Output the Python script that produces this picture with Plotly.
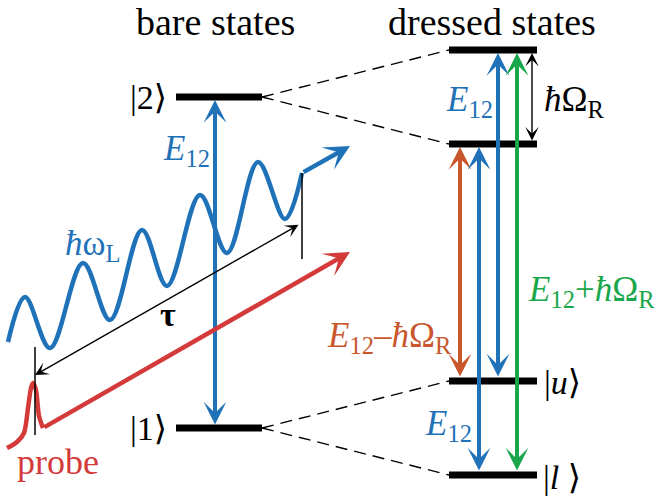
import plotly.graph_objects as go

# ---------------- data (pixel-like diagram coordinates) ----------------
W, H = 658, 497
FONT = "Liberation Serif, Times New Roman, DejaVu Serif, serif"

BLUE = "#1f72b8"
RED = "#d43a3a"
ORANGE = "#c9562c"
GREEN = "#1aa64a"
BLACK = "#000000"

# energy levels
bare_x = [176, 262]
bare_levels_y = [97, 428]          # |2>, |1>
dressed_x = [449, 537]
dressed_levels_y = [50, 144, 381, 475]   # upper pair, |u>, |l>

# laser field (extrema of the wave)
wave_x = [8, 25, 50, 83, 110, 142, 167, 200, 227, 258, 285, 302]
wave_y = [342, 297, 348, 263, 320, 230, 286, 195, 253, 162, 219, 173]
wave_arrow = [(302, 173), (350, 146)]

# probe pulse
probe_x = [7, 17, 24, 28, 31, 33, 36, 39, 43]
probe_y = [448, 442, 433, 408, 388, 383, 390, 416, 428]
probe_arrow = [(43, 428), (350, 252)]

# delay tau
tau_ticks = [(35, 347, 435), (302, 173, 259)]
tau_arrow = [(300, 224), (35, 375)]

# vertical transition arrows: (x, y_start, y_end, color)
transitions = [
    (215, 100, 426, BLUE),
    (460, 147, 378, ORANGE),
    (479, 147, 472, BLUE),
    (498, 53, 378, BLUE),
    (517, 53, 472, GREEN),
]
rabi_arrow = (532, 53, 142)

# headers: (text, x, size) placed at the top edge
headers = [("bare states", 215, 38), ("dressed states", 492, 38)]

# labels: (text, x, y, color, size)
labels = [
    ("|2⟩", 148, 97, BLACK, 34),
    ("|1⟩", 148, 428, BLACK, 34),
    ("|<i>u</i>⟩", 562, 382, BLACK, 34),
    ("|<i>l</i> ⟩", 562, 477, BLACK, 34),
    ("<i>E</i><sub>12</sub>", 186, 150, BLUE, 35),
    ("<i>E</i><sub>12</sub>", 469, 101, BLUE, 35),
    ("<i>E</i><sub>12</sub>", 448, 425, BLUE, 35),
    ("<i>ħ</i>ω<sub>L</sub>", 93, 245, BLUE, 35),
    ("<i>ħ</i>Ω<sub>R</sub>", 574, 101, BLACK, 35),
    ("<i>E</i><sub>12</sub>+<i>ħ</i>Ω<sub>R</sub>", 591, 291, GREEN, 35),
    ("<i>E</i><sub>12</sub>–<i>ħ</i>Ω<sub>R</sub>", 389, 337, ORANGE, 35),
    ("<b>τ</b>", 168, 314, BLACK, 34),
    ("probe", 58, 462, RED, 36),
]

# ---------------- figure ----------------
fig = go.Figure()

# dashed connectors between bare and dressed levels
for by, pair in zip(bare_levels_y, [dressed_levels_y[:2], dressed_levels_y[2:]]):
    for dy in pair:
        fig.add_trace(go.Scatter(x=[bare_x[1], dressed_x[0]], y=[by, dy], mode="lines",
                                 line=dict(color=BLACK, width=1.4, dash="12px,7px"),
                                 hoverinfo="skip"))

# wave
fig.add_trace(go.Scatter(x=wave_x, y=wave_y, mode="lines",
                         line=dict(color=BLUE, width=4.5, shape="spline", smoothing=1.0),
                         hoverinfo="skip"))
# probe pulse
fig.add_trace(go.Scatter(x=probe_x, y=probe_y, mode="lines",
                         line=dict(color=RED, width=4.5, shape="spline", smoothing=0.8),
                         hoverinfo="skip"))
# tau ticks
for tx, y0, y1 in tau_ticks:
    fig.add_trace(go.Scatter(x=[tx, tx], y=[y0, y1], mode="lines",
                             line=dict(color=BLACK, width=1.5), hoverinfo="skip"))

annotations = []


def arrow(p0, p1, color, width, size, both=False, head=3):
    annotations.append(dict(
        x=p1[0], y=p1[1], ax=p0[0], ay=p0[1], xref="x", yref="y", axref="x", ayref="y",
        text="", showarrow=True, arrowhead=head, startarrowhead=head,
        arrowsize=size, startarrowsize=size, arrowwidth=width, arrowcolor=color,
        arrowside="end+start" if both else "end", standoff=0, startstandoff=0))


# vertical transitions
for (tx, y0, y1, col) in transitions:
    arrow((tx, y1), (tx, y0), col, 4, 0.95, both=True)
arrow((rabi_arrow[0], rabi_arrow[2]), (rabi_arrow[0], rabi_arrow[1]), BLACK, 1.4, 1.6, both=True)

# probe straight part and wave tail
arrow(probe_arrow[0], probe_arrow[1], RED, 4.5, 0.95)
arrow(wave_arrow[0], wave_arrow[1], BLUE, 4.5, 0.95)
# tau arrow
arrow(tau_arrow[0], tau_arrow[1], BLACK, 1.4, 1.6, both=True)

# levels
for ly in bare_levels_y:
    fig.add_trace(go.Scatter(x=bare_x, y=[ly, ly], mode="lines",
                             line=dict(color=BLACK, width=7), hoverinfo="skip"))
for ly in dressed_levels_y:
    fig.add_trace(go.Scatter(x=dressed_x, y=[ly, ly], mode="lines",
                             line=dict(color=BLACK, width=7), hoverinfo="skip"))

for text, hx, size in headers:
    annotations.append(dict(x=hx, y=0, xref="x", yref="y", text=text, showarrow=False,
                            font=dict(family=FONT, size=size, color=BLACK),
                            xanchor="center", yanchor="top", borderpad=0))

for text, lx, ly, col, size in labels:
    annotations.append(dict(x=lx, y=ly, xref="x", yref="y", text=text, showarrow=False,
                            font=dict(family=FONT, size=size, color=col),
                            xanchor="center", yanchor="middle"))

fig.update_layout(
    width=W, height=H, margin=dict(l=0, r=0, t=0, b=0),
    paper_bgcolor="white", plot_bgcolor="white", showlegend=False,
    annotations=annotations,
    xaxis=dict(range=[0, W], visible=False, fixedrange=True),
    yaxis=dict(range=[H, 0], visible=False, fixedrange=True),
)

fig.write_html("out.html", config={"displayModeBar": False},
               post_script="document.body.style.margin='0';document.body.style.overflow='hidden';")
